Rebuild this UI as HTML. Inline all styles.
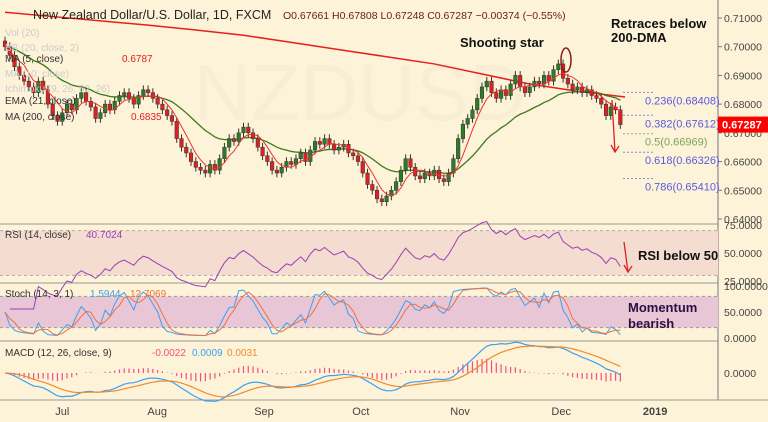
<!DOCTYPE html>
<html><head><meta charset="utf-8"><style>
body{margin:0;background:#fdf3d8;font-family:"Liberation Sans",sans-serif;}
svg{display:block}
text{font-family:"Liberation Sans",sans-serif}
</style></head><body>
<svg id="c" width="768" height="422" xmlns="http://www.w3.org/2000/svg">
<rect width="768" height="422" fill="#fdf3d8"/>
</svg>
<script>
const closes=[0.700,0.697,0.693,0.690,0.688,0.686,0.684,0.688,0.685,0.680,0.676,0.674,
0.677,0.680,0.678,0.682,0.684,0.681,0.679,0.675,0.677,0.680,0.678,0.681,0.683,0.684,0.682,0.680,0.683,0.685,0.684,0.682,
0.680,0.678,0.676,0.674,0.668,0.665,0.663,0.660,0.658,0.657,0.656,0.659,0.657,0.661,0.665,0.668,0.667,0.670,0.672,0.670,0.668,
0.665,0.662,0.660,0.657,0.656,0.658,0.660,0.659,0.661,0.663,0.660,0.664,0.667,0.666,0.668,0.666,0.664,0.665,0.666,0.663,0.662,
0.660,0.656,0.652,0.650,0.647,0.646,0.648,0.650,0.653,0.657,0.661,0.658,0.655,0.654,0.656,0.655,0.657,0.654,0.653,0.656,0.661,
0.668,0.673,0.675,0.678,0.682,0.686,0.688,0.684,0.682,0.685,0.683,0.687,0.690,0.686,0.684,0.686,0.688,0.687,0.690,0.688,0.692,
0.694,0.689,0.687,0.685,0.686,0.684,0.685,0.683,0.682,0.680,0.676,0.679,0.678,0.67287];
const ma200Vals=[0.712,0.7105,0.709,0.7075,0.7058,0.704,0.7015,0.699,0.6965,0.694,0.6905,0.687,0.6845,0.6825];
const priceTicks=[0.71,0.70,0.69,0.68,0.67,0.66,0.65,0.64];
const fibLevels=[0.68408,0.67612,0.66969,0.66326,0.65410];
const fibLabels=["0.236(0.68408)","0.382(0.67612)","0.5(0.66969)","0.618(0.66326)","0.786(0.65410)"];
const monthLabels=["Jul","Aug","Sep","Oct","Nov","Dec","2019"];
const monthIdx=[12,31.9,54.3,74.6,95.4,116.6,136.3];
const rsiTicks=[75,50,25];
const stochTicks=[100,50,0];

const S=document.getElementById('c');const NS="http://www.w3.org/2000/svg";
function el(t,a,p){const e=document.createElementNS(NS,t);for(const k in a)e.setAttribute(k,a[k]);(p||S).appendChild(e);return e;}
const xOf=i=>5+i*4.77;
const yP=p=>18+(0.71-p)*2871;
const yR=v=>253-(v-50)*1.12;
const yS=v=>338-v*0.52;
const yM=v=>373-v*4000;
const N=closes.length;

let g=el('g',{});
[224,283,341,400].forEach(y=>el('line',{x1:0,x2:718,y1:y,y2:y,stroke:'#999','stroke-width':1},g));
el('line',{x1:718,x2:718,y1:0,y2:400,stroke:'#777'},g);
el('line',{x1:0,x2:768,y1:400,y2:400,stroke:'#999'},g);
let wm=el('text',{x:360,y:120,'font-size':80,fill:'#f8eed3','text-anchor':'middle'});wm.textContent='NZDUSD';


let rb=el('rect',{x:0,y:yR(70),width:718,height:yR(30)-yR(70),fill:'#f4dcd0'});

[70,30].forEach(v=>el('line',{x1:0,x2:718,y1:yR(v),y2:yR(v),stroke:'#aaa','stroke-dasharray':'3,3'}));
let sb=el('rect',{x:0,y:yS(80),width:718,height:yS(20)-yS(80),fill:'#e8c6d6'});

[80,20].forEach(v=>el('line',{x1:0,x2:718,y1:yS(v),y2:yS(v),stroke:'#999','stroke-dasharray':'3,3'}));

const ax=el('g',{});
priceTicks.forEach(p=>{el('line',{x1:718,x2:722,y1:yP(p),y2:yP(p),stroke:'#777'},ax);const t=el('text',{x:724,y:yP(p)+4,'font-size':10.5,fill:'#444'},ax);t.textContent=p.toFixed(5);});
rsiTicks.forEach(v=>{const t=el('text',{x:724,y:yR(v)+4,'font-size':10.5,fill:'#444'},ax);t.textContent=v.toFixed(4);});
stochTicks.forEach(v=>{const t=el('text',{x:724,y:yS(v)+4,'font-size':10.5,fill:'#444'},ax);t.textContent=v.toFixed(4);});
{const t=el('text',{x:724,y:yM(0)+4,'font-size':10.5,fill:'#444'},ax);t.textContent='0.0000';}
monthLabels.forEach((m,i)=>{const t=el('text',{x:xOf(monthIdx[i]),y:415,'font-size':11,fill:'#444','text-anchor':'middle','font-weight':m==='2019'?'bold':'normal'});t.textContent=m;
});

let pts=ma200Vals.map((v,i)=>xOf(i*10)+','+yP(v)).join(' ');
let m2=el('polyline',{points:pts,fill:'none',stroke:'#e8201c','stroke-width':1.5});

let ema=[],e=closes[0];const k=2/22;closes.forEach(c=>{e=c*k+e*(1-k);ema.push(e);});
let em=el('polyline',{points:ema.map((v,i)=>xOf(i)+','+yP(v)).join(' '),fill:'none',stroke:'#3d7a1e','stroke-width':1.3});

const cg=el('g',{});
closes.forEach((c,i)=>{const o=i?closes[i-1]:c+0.002;const hi=Math.max(o,c)+0.0015,lo=Math.min(o,c)-0.0015;
const col=c>=o?'#2f7a25':'#e02020';const x=xOf(i);
el('line',{x1:x,x2:x,y1:yP(hi),y2:yP(lo),stroke:'#333','stroke-width':1},cg);
el('rect',{x:x-1.8,y:yP(Math.max(o,c)),width:3.6,height:Math.max(1,Math.abs(yP(o)-yP(c))),fill:col,stroke:'#333','stroke-width':0.5},cg);});
let ma5=closes.map((c,i)=>{const s=closes.slice(Math.max(0,i-4),i+1);return s.reduce((a,b)=>a+b)/s.length;});
let m5=el('polyline',{points:ma5.map((v,i)=>xOf(i)+','+yP(v)).join(' '),fill:'none',stroke:'#f03030','stroke-width':1});


fibLevels.forEach((f,i)=>{el('line',{x1:623,x2:655,y1:yP(f),y2:yP(f),stroke:i==2?'#8fb070':'#8a8ae0','stroke-dasharray':'2,2'});
const t=el('text',{x:645,y:yP(f)+12,'font-size':11,fill:i==2?'#7ca35a':'#5a5ae0'});t.textContent=fibLabels[i];
});
let lp=el('rect',{x:718,y:yP(closes[N-1])-8,width:50,height:16,fill:'#f00'});
{const t=el('text',{x:722,y:yP(closes[N-1])+4,'font-size':11,fill:'#fff','font-weight':'bold'});t.textContent=closes[N-1].toFixed(5);}

function rsi(arr,n){let out=[],ag=0,al=0;for(let i=1;i<arr.length;i++){const d=arr[i]-arr[i-1];const gg=Math.max(d,0),ll=Math.max(-d,0);
if(i<=n){ag+=gg/n;al+=ll/n;}else{ag=(ag*(n-1)+gg)/n;al=(al*(n-1)+ll)/n;}out.push(al===0?70:100-100/(1+ag/al));}return out;}
const rs=rsi(closes,14);
let rl=el('polyline',{points:rs.map((v,i)=>xOf(i+1)+','+yR(v)).join(' '),fill:'none',stroke:'#9b3fb5','stroke-width':1});

const K=closes.map((c,i)=>{const s=closes.slice(Math.max(0,i-13),i+1);const h=Math.max(...s)+0.0015,l=Math.min(...s)-0.0015;return (c-l)/(h-l)*100;});
const D=K.map((v,i)=>{const s=K.slice(Math.max(0,i-2),i+1);return s.reduce((a,b)=>a+b)/s.length;});
let kl=el('polyline',{points:K.map((v,i)=>xOf(i)+','+yS(v)).join(' '),fill:'none',stroke:'#3fa0f0','stroke-width':1});

let dl=el('polyline',{points:D.map((v,i)=>xOf(i)+','+yS(v)).join(' '),fill:'none',stroke:'#f07040','stroke-width':1});

function emaA(a,n){const kk=2/(n+1);let v=a[0];return a.map(x=>v=x*kk+v*(1-kk));}
const e12=emaA(closes,12),e26=emaA(closes,26);const macd=e12.map((v,i)=>v-e26[i]);const sig=emaA(macd,9);
const hg=el('g',{});
macd.forEach((v,i)=>{const h=(v-sig[i]);el('line',{x1:xOf(i),x2:xOf(i),y1:yM(0),y2:yM(h),stroke:'#f05080','stroke-width':1.2},hg);});
let ml=el('polyline',{points:macd.map((v,i)=>xOf(i)+','+yM(v)).join(' '),fill:'none',stroke:'#3fa0f0','stroke-width':1.2});

let sl=el('polyline',{points:sig.map((v,i)=>xOf(i)+','+yM(v)).join(' '),fill:'none',stroke:'#f08a30','stroke-width':1.2});


function txt(x,y,s,sz,fill,w,name){const t=el('text',{x:x,y:y,'font-size':sz,fill:fill,'font-weight':w||'normal'});t.textContent=s;return t;}
txt(33,19,'New Zealand Dollar/U.S. Dollar, 1D, FXCM',12.5,'#222','normal','chart-title');
txt(283,19,'O0.67661  H0.67808  L0.67248  C0.67287  −0.00374 (−0.55%)',10.5,'#6a1a1a','normal','ohlc-values');
const legs=[['Vol (20)',36,'#ccc'],['BB (20, close, 2)',51,'#ccc'],['MA (5, close)',62,'#333'],['MA (10, close)',77,'#ccc'],['Ichimoku (9, 26, 52, 26)',92,'#ccc'],['EMA (21, close)',104,'#333'],['MA (200, close)',120,'#333']];
legs.forEach(l=>txt(5,l[1],l[0],10,l[2],'normal','indicator-legend'));
txt(122,62,'0.6787',10,'#e02020','normal','ma5-value');
txt(131,120,'0.6835',10,'#e02020','normal','ma200-value');
txt(5,238,'RSI (14, close)',10,'#333','normal','rsi-legend');txt(86,238,'40.7024',10,'#9b3fb5','normal','rsi-value');
txt(5,297,'Stoch (14, 3, 1)',10,'#333','normal','stoch-legend');txt(90,297,'1.5944',10,'#3fa0f0','normal','stoch-k-value');txt(130,297,'12.7069',10,'#f07040','normal','stoch-d-value');
txt(5,356,'MACD (12, 26, close, 9)',10,'#333','normal','macd-legend');txt(152,356,'-0.0022',10,'#f05080','normal','macd-hist-value');txt(192,356,'0.0009',10,'#3fa0f0','normal','macd-value');txt(227,356,'0.0031',10,'#f08a30','normal','macd-signal-value');
txt(460,47,'Shooting star',13,'#111','bold','annotation-shooting-star');
txt(611,28,'Retraces below',13,'#111','bold','annotation-retraces');txt(611,42,'200-DMA',13,'#111','bold','annotation-200dma');
txt(638,260,'RSI below 50',13,'#111','bold','annotation-rsi');
txt(628,312,'Momentum',13,'#2a1040','bold','annotation-momentum');txt(628,328,'bearish',13,'#2a1040','bold','annotation-bearish');
let ell=el('ellipse',{cx:566,cy:60,rx:5,ry:12,fill:'none',stroke:'#8b1a1a','stroke-width':1.5});
function arrow(x1,y1,x2,y2,name){const a=el('g',{});
el('line',{x1,y1,x2,y2,stroke:'#e02020','stroke-width':1.3},a);el('polyline',{points:(x2-4)+','+(y2-7)+' '+x2+','+y2+' '+(x2+4)+','+(y2-6),fill:'none',stroke:'#e02020','stroke-width':1.3},a);}
arrow(612,100,615,152,'price-down-arrow');arrow(624,242,628,272,'rsi-down-arrow');
</script>
</body></html>
